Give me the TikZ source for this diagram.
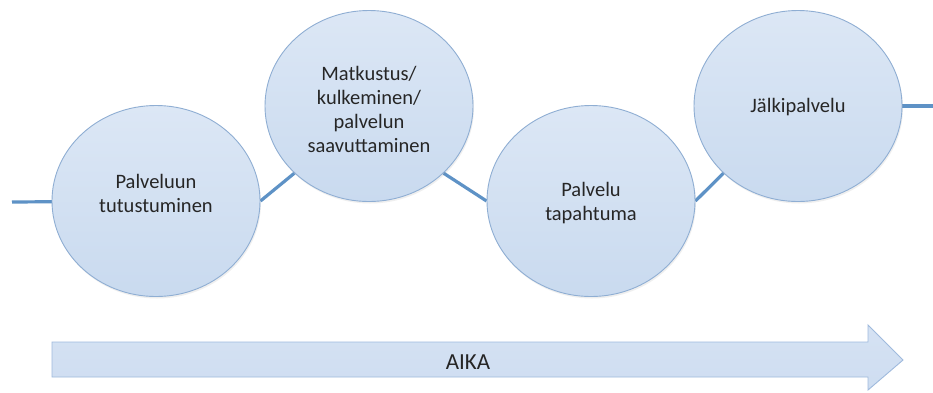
\documentclass[tikz,border=0pt]{standalone}
\usepackage{fontspec}
\setmainfont{Carlito}
\usetikzlibrary{shapes.geometric,shadows}
\pgfdeclarelayer{background}
\pgfsetlayers{background,main}
\definecolor{bubtop}{HTML}{DCE7F5}
\definecolor{bubbot}{HTML}{C9DAEF}
\definecolor{bubedge}{HTML}{8FAED3}
\definecolor{linkc}{HTML}{5E92C6}
\definecolor{arrfill}{HTML}{CEDDF1}
\definecolor{arredge}{HTML}{9FBADD}
\definecolor{txt}{HTML}{262626}
\tikzset{
  bubble/.style={ellipse, minimum width=208pt, minimum height=191pt, inner sep=0pt,
    top color=bubtop, bottom color=bubbot, draw=bubedge, line width=0.9pt,
    drop shadow={opacity=0.12, shadow xshift=1pt, shadow yshift=-2pt}},
  lbl/.style={align=center, text=txt, font=\fontsize{20.5}{24}\selectfont, inner sep=0pt},
  link/.style={draw=linkc, line width=3.2pt},
  timearrow/.style={top color=arrfill!85!white, bottom color=arrfill, draw=arredge, line width=0.9pt, line join=miter}
}
\begin{document}
\begin{tikzpicture}[x=1pt,y=-1pt]
\useasboundingbox (0,0) rectangle (933,392);
\coordinate (lstart) at (12,202);
\coordinate (rend) at (933,106);
\node[bubble] (c1) at (156,201) {};
\node[bubble] (c2) at (369,106) {};
\node[bubble] (c3) at (591,201) {};
\node[bubble] (c4) at (798,106) {};
\begin{pgfonlayer}{background}
\fill[white] (0,0) rectangle (933,392);
\draw[link] (lstart) -- (c1.center);
\draw[link] (c1.east) -- (c2.222);
\draw[link] (c2.318) -- (c3.west);
\draw[link] (c3.east) -- (c4.222);
\draw[link] (c4.center) -- (rend);
\end{pgfonlayer}
% labels
\node[lbl] (t1) at (156,193) {Palveluun\\tutustuminen};
\node[lbl] (t2) at (369,109) {Matkustus/\\kulkeminen/\\palvelun\\saavuttaminen};
\node[lbl] (t3) at (591,203) {Palvelu\\tapahtuma};
\node[lbl] (t4) at (798,107) {Jälkipalvelu};
% time arrow
\draw[timearrow] (52,342) -- (868,342) -- (868,325) -- (903,360) -- (868,390) -- (868,377) -- (52,377) -- cycle;
\node[lbl, font=\fontsize{23}{26}\selectfont] (aika) at (468,362) {AIKA};
\end{tikzpicture}
\end{document}
